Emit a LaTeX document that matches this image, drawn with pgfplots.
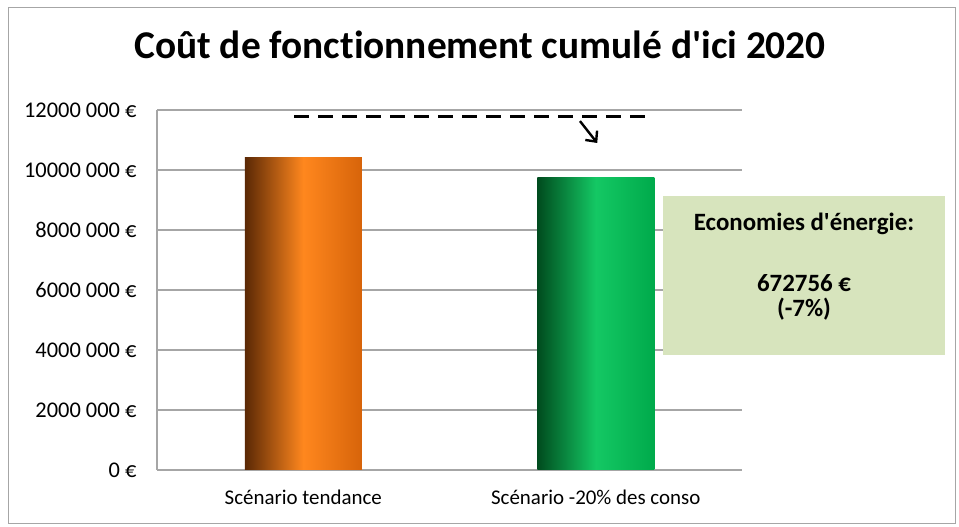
\documentclass[border=0pt]{standalone}
\usepackage{pgfplots}
\pgfplotsset{compat=1.18}
\usepackage{fontspec}
\setmainfont[Ligatures={ResetAll,NoCommon,NoContextual}]{Carlito}
\usetikzlibrary{arrows.meta}
\definecolor{gridgray}{HTML}{A6A6A6}
\definecolor{boxgreen}{HTML}{D7E4BD}
\begin{document}
\begin{tikzpicture}[x=1bp,y=1bp]
\useasboundingbox (0,0) rectangle (959,527);
\draw[gridgray, line width=1bp] (8,3) rectangle (955,519);
\node[font=\bfseries\fontsize{39.5}{44}\selectfont] at (480,482) {Coût de fonct\kern0pt ionnement cumulé d\textquotesingle ici 2020};
\begin{axis}[
  at={(157bp,57bp)}, anchor=south west,
  scale only axis, width=585bp, height=360bp,
  xmin=-0.5, xmax=1.5, ymin=0, ymax=12000000,
  axis x line=bottom, axis y line=left,
  axis line style={gridgray, line width=1.3bp, -},
  xtick={0,1}, xticklabels={Scénario tendance, Scénario -20\% des conso},
  ytick={0,2000000,4000000,6000000,8000000,10000000,12000000},
  yticklabels={0 €,2000 000 €,4000 000 €,6000 000 €,8000 000 €,10000 000 €,12000 000 €},
  ymajorgrids, grid style={gridgray, line width=1.3bp},
  major tick length=0pt,
  tick label style={font=\fontsize{21}{24}\selectfont},
  yticklabel style={font=\fontsize{22.5}{26}\selectfont, xshift=-17bp},
  xticklabel style={yshift=-16bp},
  scaled y ticks=false,
  ybar, bar width=0.4, bar shift=0pt,
  clip=false,
]
\addplot[draw=none, left color={rgb,255:red,90;green,40;blue,5}, right color={rgb,255:red,215;green,100;blue,10}, middle color={rgb,255:red,255;green,135;blue,30}] coordinates {(0,10410000)};
\addplot[draw=none, left color={rgb,255:red,0;green,75;blue,30}, right color={rgb,255:red,0;green,170;blue,75}, middle color={rgb,255:red,20;green,200;blue,100}] coordinates {(1,9737000)};
\addplot[black, line width=3bp, dash pattern=on 15bp off 9bp, sharp plot, forget plot] coordinates {(-0.03,11770000) (1.167,11770000)};
\addplot[black, line width=2.4bp, -{Straight Barb[length=8bp,width=15bp]}, sharp plot, forget plot] coordinates {(0.946,11630000) (1.005,10900000)};
\end{axis}
\fill[boxgreen] (663,172) rectangle (945,331);
\node[font=\bfseries\fontsize{25}{30}\selectfont] at (804,303) {Economies d\textquotesingle énergie:};
\node[font=\bfseries\fontsize{25}{30}\selectfont] at (804,244) {672756 €};
\node[font=\bfseries\fontsize{25}{30}\selectfont] at (804,218) {(-7\%)};
\end{tikzpicture}
\end{document}
